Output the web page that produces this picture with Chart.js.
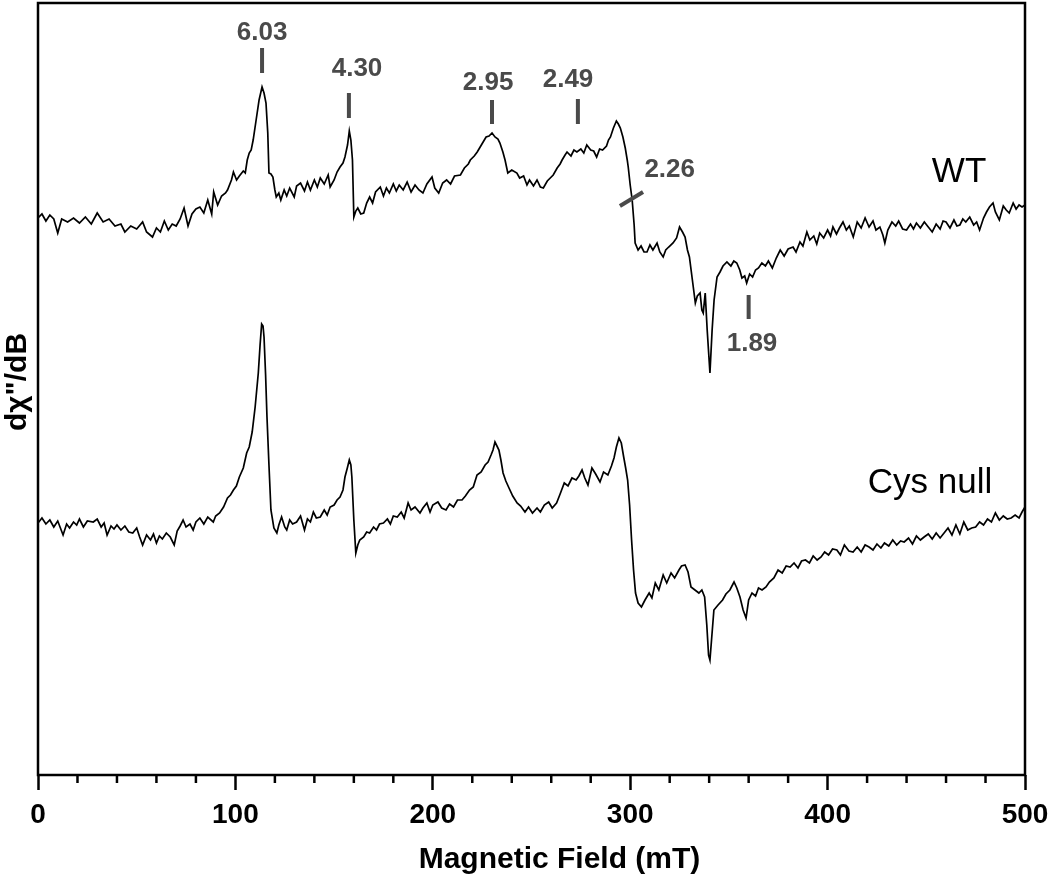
<!DOCTYPE html>
<html>
<head>
<meta charset="utf-8">
<script src="https://cdn.jsdelivr.net/npm/chart.js@4.4.1/dist/chart.umd.min.js"></script>
<style>
    html, body { margin: 0; padding: 0; background: #fff; }
</style>
</head>
<body>
<canvas id="epr" width="1050" height="875"></canvas>
<script>
// WT spectrum (field in mT, signal in arbitrary units)
const wtField = [0,2,4,6,8,10,12,15,18,21,24,27,30,33,36,39,42,44,47,50,53,55,58,60,62,64,66,68,70,72,74,76,78,80,82,84,86,88,89,91,93,95,96,98,99,100.6,102,104,105,106,107,108,109,110.5,112,113.5,114.5,115.5,116.4,117,118,119,120,120.7,122,123,124.7,126,127.5,129.8,131,133,135,136.5,138,140,141.5,143,145,147,148,150,151.5,153,154.5,155.5,156.8,157.7,158.5,159.3,160,161,162,163.5,165,166.5,168,169.5,171,173.4,175,176.5,178,180,181.5,183,185,187,189,191,193,195,197,199.6,201,203,205,207,209,211,214,216,218,219,221,222.5,224,225.5,227,228.5,230,231.5,233,234,235.5,236.6,238,240,242.6,244,246,247.7,249,251,252.8,254.5,256,258,259.5,261,263,264.5,265.5,267,268,270,271.5,273,275,276.5,278,280,281.5,283,284.5,286,288,289,290,291.5,293,294,295,296.3,297.5,298.5,299,300,301,302,302.5,304,305.5,307,308.5,310,311.5,313.6,315,316.7,318,319.5,321.7,323.5,325,326.5,327.8,329,330,331.5,333,334,335.4,336.3,337,338,339,340.4,341.5,342.5,344,345.5,347,349,351,352.5,354,355.5,356.6,358,359,360.5,362,363.5,365,366.7,368.5,370,372,374,376,378,380,382.5,384,386,387.5,389.5,391,393,394.5,396,398,400,401.5,402.7,404.5,406,407.8,409.5,411,413,415,417,419,421,423,424.5,426.5,428,429,430.5,432.6,434.5,436,438,440,442,443.5,445,447,449,451,453,455,457,458.5,460,462,464,465.5,467,468.5,470,472,474,475.5,477,479,480.5,482,483.8,485,487,489,490.5,492,494,495.5,497,498.5,500];
const wtSignal = [557,561,554,560,556,542,556,553,557,552,558,551,562,553,556,549,551,543,549,546,553,543,538,547,543,554,545,551,549,556,567,549,561,566,568,562,575,561,583,570,579,582,585,595,603,595,599,604,602,615,622,625,635,655,675,688,682,672,642,602,601,598,585,578,582,575,585,579,587,578,589,592,584,593,585,595,588,597,591,600,588,595,603,608,612,618,630,644,635,615,558,564,567,561,562,572,578,572,583,588,579,587,582,591,584,590,585,593,583,590,585,582,591,598,587,582,592,595,591,599,600,607,611,615,619,623,628,633,638,639,642,638,636,632,623,615,602,605,602,597,599,590,595,589,595,588,587,594,597,600,607,611,615,620,623,619,625,623,626,622,630,625,624,618,626,625,629,635,638,647,654,651,647,638,627,615,608,590,575,550,532,525,529,523,523,530,525,532,523,518,525,528,532,537,548,543,538,525,518,495,472,479,482,465,462,482,445,402,445,475,498,503,509,513,509,514,512,505,497,499,492,501,498,505,507,512,509,514,507,517,525,519,526,528,523,533,529,543,535,539,531,542,537,545,539,548,541,547,553,545,549,538,553,547,557,548,554,545,548,540,532,545,553,549,554,546,545,551,546,552,547,553,548,543,551,546,554,553,547,555,549,550,556,553,558,550,553,545,557,563,568,572,563,555,569,565,562,572,566,570,568,570];

// Cys null spectrum
const cysField = [0,2,4,6,8,10,12.7,14.5,16,18,19.6,21,23,25,28,30,32,33.5,35,37,38.5,40,42,44,46,48,50,51.5,53,55,57,58.5,60,61.5,63,65,67,69,70.5,72,73.5,75,77,78.6,80,82,84,86,88.8,90,92,94,96,97.5,99,100.5,102,104,105.7,107,108.5,110,111.6,112.5,113.3,114,114.5,115.3,116,117,118,119.5,121,122,123.4,125,126,127.5,129,131,133,135,136.5,138,139.5,141,143,145,146.5,148,150,151.5,153,154.5,155.5,156.7,157.7,158.5,159,160,161,162,163,165,166.5,168,170,171.5,173,175,177,178.5,180,182,184,185.5,187.5,189,191,193.5,195,197,198.6,200,202.6,204.5,206.7,208.5,210.5,212.5,214.8,216.5,218.6,220.5,222.4,224.5,226.5,228,229.5,230.5,231.5,232.5,233.5,234.5,235.6,237,238.6,240.5,242.7,244.5,246.7,248.5,250.5,252.8,254.5,256.5,258.7,260.5,262.7,264.5,266.6,268.5,270.5,272.6,274,275.6,277,278.6,280.6,282.5,284.7,286.5,288.7,290.5,291.8,293,294.3,295.5,296.7,297.7,298.7,299.7,300.7,301.7,302.7,304,305.7,307.5,309.6,311,312.7,314.5,316.7,318.5,320.7,322.5,324.7,326,327.8,329.3,330.8,332.8,334.8,336.3,337.7,338.8,339.7,340.4,341.2,342.4,344.5,346.8,348.5,350.5,352.6,354,355.6,357.2,358.7,360,361.7,363.5,365,366.8,368.8,370.5,372.8,374.9,377,379,381,383,385,386.8,388.8,390.8,392.7,394.7,396.7,398.5,400.5,402.5,404.7,406.5,408.5,410.8,412.9,415,417,419,421,423,425,427,428.8,431,433,435,437,438.8,441,443,445,447,448.9,451,453,455,457,459,461,463,465,467,469,471,473,475,477,479,481,483,485,487,489,491,493,495,497,498.5,500];
const cysSignal = [252,257,251,255,248,254,240,251,247,253,250,256,248,254,253,256,248,252,240,249,246,250,245,249,243,242,247,238,230,240,235,241,232,239,236,242,238,230,244,249,255,248,251,245,253,257,251,258,253,259,262,268,277,280,285,289,298,307,322,328,343,368,402,430,451,449,438,400,358,310,265,247,242,250,258,248,245,255,251,253,259,245,256,253,263,257,258,265,260,268,270,275,278,285,298,307,315,310,298,255,222,230,235,238,243,242,248,245,251,252,256,251,259,258,263,257,272,265,268,262,267,272,263,270,273,267,265,271,268,275,275,279,285,288,300,303,310,313,320,325,333,329,325,315,302,294,287,279,272,269,263,268,262,267,263,270,273,267,272,281,292,289,297,295,299,305,297,290,307,301,293,303,300,309,317,328,337,332,318,307,295,270,235,205,182,172,168,175,182,177,192,185,200,192,202,197,205,209,210,203,188,185,182,185,178,150,120,115,135,165,170,175,181,185,193,187,178,165,157,175,182,179,187,185,188,193,197,205,202,209,208,212,207,214,215,212,219,215,218,223,220,226,225,220,230,224,223,228,223,230,228,225,231,227,232,229,235,230,234,233,237,231,239,235,238,241,236,242,237,242,247,240,250,241,253,245,247,248,253,250,256,253,262,255,259,256,257,260,257,263,268];

// axis ticks
const majorTicks = [0, 100, 200, 300, 400, 500];
const minorStep = 20;

// g-value markers on the WT trace: [label, field1, signal1, field2, signal2, labelField, labelSignal]
const gMarks = [
    ['6.03', 113.5, 702, 113.5, 727, 113.5, 742],
    ['4.30', 157.5, 657, 157.5, 682, 161.6, 706],
    ['2.95', 230, 651, 230, 675, 228, 692],
    ['2.49', 273.5, 651, 273.5, 676, 268.5, 695],
    ['2.26', 294.8, 569, 306.5, 583, 320, 605],
    ['1.89', 360, 456, 360, 480, 361.7, 431]
];
const traceLabels = [
    ['WT', 466.6, 603],
    ['Cys null', 451.9, 292]
];

const FONT = '"Liberation Sans", Arial, Helvetica, sans-serif';

const toPoints = (xs, ys) => xs.map((x, i) => ({ x, y: ys[i] }));

const decorPlugin = {
    id: 'decor',
    afterDraw(chart) {
        const { ctx, chartArea: area, scales: { x, y } } = chart;
        ctx.save();

        // frame
        ctx.strokeStyle = '#000';
        ctx.lineWidth = 2.5;
        ctx.strokeRect(area.left, area.top, area.right - area.left, area.bottom - area.top);

        // minor ticks
        for (let v = 0; v <= 500; v += minorStep) {
            if (majorTicks.includes(v)) continue;
            const px = x.getPixelForValue(v);
            ctx.beginPath();
            ctx.moveTo(px, area.bottom);
            ctx.lineTo(px, area.bottom + 8);
            ctx.stroke();
        }

        // g markers
        ctx.strokeStyle = '#4a4a4a';
        ctx.fillStyle = '#4a4a4a';
        ctx.lineWidth = 4;
        ctx.font = 'bold 26px ' + FONT;
        ctx.textAlign = 'center';
        ctx.textBaseline = 'middle';
        gMarks.forEach(([label, f1, s1, f2, s2, lf, ls]) => {
            ctx.beginPath();
            ctx.moveTo(x.getPixelForValue(f1), y.getPixelForValue(s1));
            ctx.lineTo(x.getPixelForValue(f2), y.getPixelForValue(s2));
            ctx.stroke();
            ctx.fillText(label, x.getPixelForValue(lf), y.getPixelForValue(ls));
        });

        // trace names
        ctx.fillStyle = '#000';
        ctx.font = '35px ' + FONT;
        traceLabels.forEach(([label, f, s]) => {
            ctx.fillText(label, x.getPixelForValue(f), y.getPixelForValue(s));
        });

        // axis titles
        ctx.font = 'bold 30px ' + FONT;
        ctx.textBaseline = 'alphabetic';
        ctx.fillText('Magnetic Field (mT)', (area.left + area.right) / 2 + 28, 868);

        ctx.translate(26, (area.top + area.bottom) / 2 - 7);
        ctx.rotate(-Math.PI / 2);
        ctx.fillText('dχ"/dB', 0, 0);

        ctx.restore();
    }
};

new Chart(document.getElementById('epr'), {
    type: 'line',
    data: {
        datasets: [
            {
                label: 'WT',
                data: toPoints(wtField, wtSignal),
                borderColor: '#000',
                borderWidth: 1.7,
                pointRadius: 0,
                tension: 0
            },
            {
                label: 'Cys null',
                data: toPoints(cysField, cysSignal),
                borderColor: '#000',
                borderWidth: 1.7,
                pointRadius: 0,
                tension: 0
            }
        ]
    },
    options: {
        responsive: false,
        animation: false,
        devicePixelRatio: 1,
        layout: { padding: { top: 3, right: 25, left: 0, bottom: 0 } },
        plugins: {
            legend: { display: false },
            tooltip: { enabled: false }
        },
        scales: {
            x: {
                type: 'linear',
                min: 0,
                max: 500,
                afterFit(scale) {
                    scale.height = 100;
                    scale.paddingLeft = 0;
                    scale.paddingRight = 0;
                },
                afterBuildTicks(scale) { scale.ticks = majorTicks.map(v => ({ value: v })); },
                border: { display: false },
                grid: {
                    drawOnChartArea: false,
                    drawTicks: true,
                    tickLength: 15,
                    tickWidth: 2.5,
                    tickColor: '#000'
                },
                ticks: {
                    color: '#000',
                    padding: 8,
                    maxRotation: 0,
                    font: { family: FONT, size: 28, weight: 'bold' }
                }
            },
            y: {
                min: 0,
                max: 772,
                afterFit(scale) { scale.width = 38; },
                border: { display: false },
                grid: { display: false, drawTicks: false },
                ticks: { display: false }
            }
        }
    },
    plugins: [decorPlugin]
});
</script>
</body>
</html>
